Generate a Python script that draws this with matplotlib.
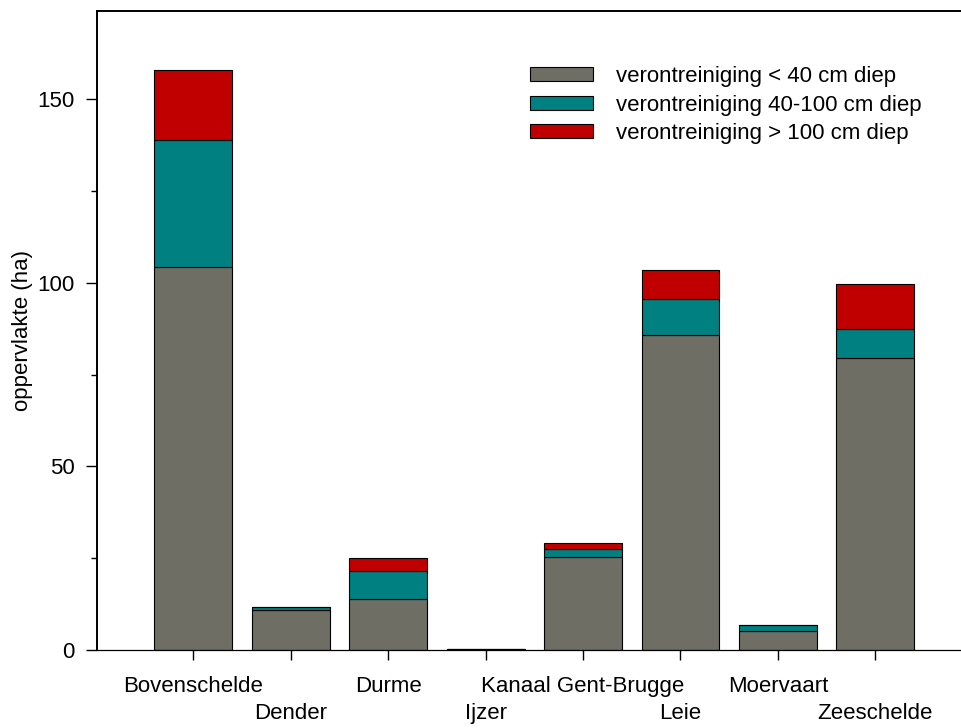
import matplotlib
matplotlib.use("Agg")
import matplotlib.pyplot as plt
import numpy as np

plt.rcParams["font.family"] = ["Liberation Sans", "DejaVu Sans"]

# --- oppervlakte per bekken (ha) ---
bekkens = ["Bovenschelde", "Dender", "Durme", "Ijzer", "Kanaal Gent-Brugge",
           "Leie", "Moervaart", "Zeeschelde"]
ondiep = [104.3, 10.9, 14.0, 0.3, 25.4, 85.8, 5.1, 79.5]      # < 40 cm
midden = [34.6, 0.9, 7.5, 0.0, 2.0, 9.8, 1.6, 7.9]             # 40-100 cm
diep = [19.1, 0.0, 3.5, 0.0, 1.8, 7.9, 0.0, 12.2]              # > 100 cm

labels = ["verontreiniging < 40 cm diep",
          "verontreiniging 40-100 cm diep",
          "verontreiniging > 100 cm diep"]
colors = ["#6e6e65", "#008080", "#c00000"]

fig = plt.figure(figsize=(9.61, 7.28), dpi=100)
ax = fig.add_axes([97 / 961, 78 / 728, 864 / 961, 639 / 728])

x = np.arange(len(bekkens))
bottom = np.zeros(len(bekkens))
for vals, lab, col in zip([ondiep, midden, diep], labels, colors):
    vals = np.array(vals)
    ax.bar(x, vals, width=0.8, bottom=bottom, color=col, edgecolor="black",
           linewidth=0.8, label=lab)
    bottom += vals

ax.set_xlim(-0.99, 7.88)
ax.set_ylim(0, 174)

ax.set_yticks([0, 50, 100, 150])
ax.set_yticks([25, 75, 125], minor=True)
ax.tick_params(axis="y", which="major", length=8, width=1, pad=8, labelsize=16)
ax.tick_params(axis="y", which="minor", length=4, width=1)

# category labels alternate over two rows: even ones as major ticks,
# odd ones as minor ticks with a bigger pad
ax.set_xticks(x[::2])
ax.set_xticklabels(bekkens[::2])
ax.set_xticks(x[1::2], minor=True)
ax.set_xticklabels(bekkens[1::2], minor=True)
ax.tick_params(axis="x", which="major", length=7, width=1, pad=12, labelsize=16)
ax.tick_params(axis="x", which="minor", length=7, width=1, pad=31, labelsize=16)

ax.set_ylabel("oppervlakte (ha)", fontsize=16, labelpad=3)

ax.spines["right"].set_visible(False)
ax.spines["left"].set_linewidth(1.4)
ax.spines["top"].set_linewidth(1.4)
ax.spines["bottom"].set_linewidth(0.9)

fig.legend(loc="upper left", bbox_to_anchor=(530 / 961, 1 - 66 / 728),
           frameon=False, fontsize=16, handlelength=2.85, handleheight=0.6,
           handletextpad=1.0, labelspacing=0.34, borderpad=0, borderaxespad=0)

fig.savefig("out.png", dpi=100)
